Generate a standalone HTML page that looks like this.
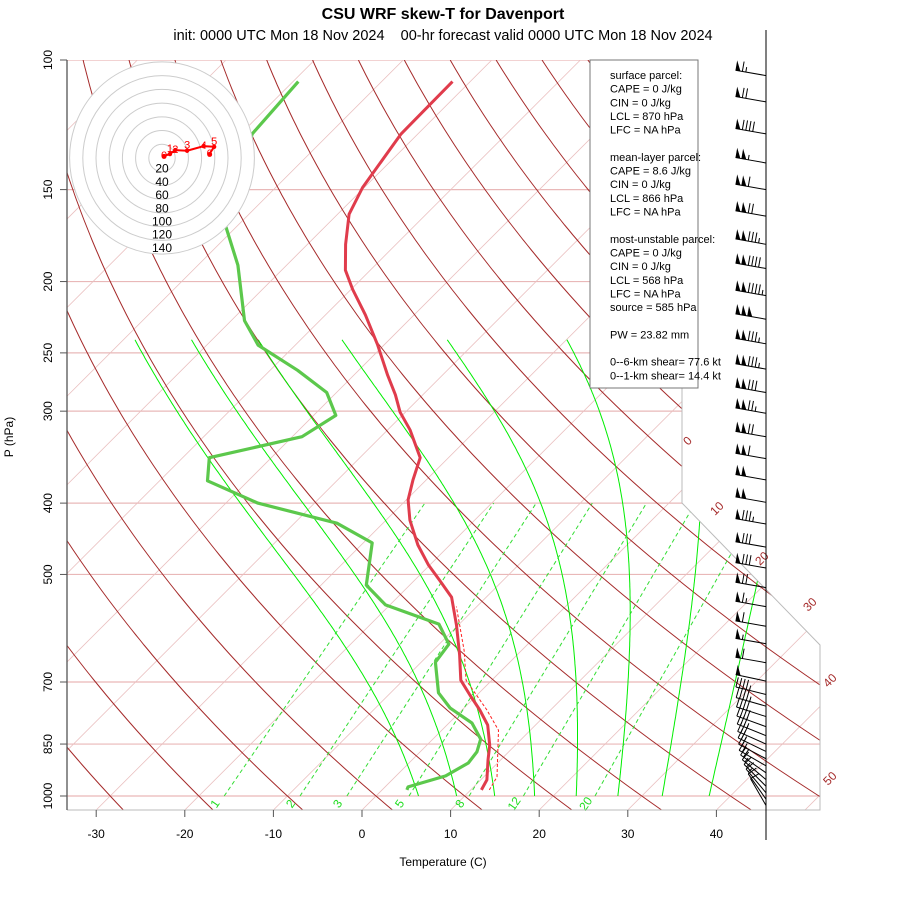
<!DOCTYPE html>
<html><head><meta charset="utf-8"><style>
html,body{margin:0;padding:0;background:#fff;}
svg{display:block;font-family:"Liberation Sans",sans-serif;}
</style></head><body>
<svg id="chart" width="900" height="900" viewBox="0 0 900 900" xmlns="http://www.w3.org/2000/svg">
<defs><clipPath id="plotClip"><polygon points="67,60 682,60 682,503 820,645 820,810 67,810"/></clipPath></defs>
<text x="443" y="19" text-anchor="middle" font-size="16" font-weight="bold">CSU WRF skew-T for Davenport</text>
<text x="443" y="40" text-anchor="middle" font-size="14.5" xml:space="preserve">init: 0000 UTC Mon 18 Nov 2024    00-hr forecast valid 0000 UTC Mon 18 Nov 2024</text>
<g id="grid" clip-path="url(#plotClip)"></g>
<g id="series" clip-path="url(#plotClip)"></g>
<g id="axes"></g>
<g id="hodo"></g>
<g id="info"></g>
<g id="barbs"></g>
</svg>
<script>
// ---- data ----
var isobarLevels=[100,150,200,250,300,400,500,700,850,1000];
var tempP=[107,126,149,162,178,193,205,222,244,268,285,301,318,347,372,396,422,456,485,509,537,586,643,696,729,764,801,853,894,951,981];
var tempT=[-72.0,-71.9,-70.2,-68.7,-65.7,-62.8,-59.8,-55.5,-50.7,-46.2,-43.1,-40.6,-37.5,-33.2,-31.5,-29.8,-27.3,-23.6,-20.2,-17.2,-13.9,-10.2,-6.5,-3.5,-0.8,2.0,4.6,7.1,8.6,10.7,11.2];
var dewP=[107,126,166,190,226,244,264,283,304,325,347,373,400,426,453,517,550,584,622,658,724,759,796,837,871,902,939,972,981];
var dewT=[-89.4,-88.7,-81.9,-75.5,-68.5,-64.2,-56.9,-51.1,-47.5,-48.9,-57.0,-54.6,-46.4,-35.2,-29.0,-24.9,-20.5,-12.3,-8.9,-8.4,-4.6,-1.6,2.6,5.4,6.4,6.7,5.6,2.6,2.8];
var parcelP=[981,942,814,764,696,634,553];
var parcelT=[12.1,11.5,6.4,2.8,-2.9,-6.5,-12.3];
var moistT0=[4.8,9.1,13.4,17.9,22.6,27.3,32.3,37.6];
var mixRatios=[1,2,3,5,8,12,20];
var isoLabels=[0,10,20,30,40,50];
var tempTicks=[-30,-20,-10,0,10,20,30,40];
var barbP=[105,114,126,138,150,163,178,192,209,225,243,263,283,302,325,348,372,399,427,459,490,521,553,588,621,659,698,728,755,780,805,828,850,870,890,910,930,950,970,990,1010,1030];
var barbSpd=[65,70,90,105,110,120,135,140,145,150,135,135,130,125,120,110,100,100,85,80,80,70,65,60,55,60,50,45,45,40,40,35,30,25,20,20,20,15,15,15,10,10];
var barbDir=[280,280,280,280,280,280,280,280,280,280,280,280,280,280,280,280,280,280,280,280,280,280,280,280,280,280,282,284,286,288,290,292,294,296,298,300,305,310,315,320,325,330];
var hodoU=[3,12,20,38,63,79,72];
var hodoV=[3,6,12,11,18,17,6];
var hodoLbl=["0","1","2","3","4","5","6"];
var hodoRings=[20,40,60,80,100,120,140];
var infoLines=["surface parcel:","CAPE = 0 J/kg","CIN = 0 J/kg","LCL = 870 hPa","LFC = NA hPa","","mean-layer parcel:","CAPE = 8.6 J/kg","CIN = 0 J/kg","LCL = 866 hPa","LFC = NA hPa","","most-unstable parcel:","CAPE = 0 J/kg","CIN = 0 J/kg","LCL = 568 hPa","LFC = NA hPa","source = 585 hPa","","PW =  23.82 mm","","0--6-km shear= 77.6 kt","0--1-km shear= 14.4 kt"];

// ---- scales ----
var NS="http://www.w3.org/2000/svg";
function yP(p){return 796-736*Math.log10(1000/p);}
function xT(t,y){return 362+8.86*t+(810-y);}
function mk(tag,at,parent){var e=document.createElementNS(NS,tag);for(var k in at)e.setAttribute(k,at[k]);parent.appendChild(e);return e;}
function pathFrom(ps,ts){var d="";for(var i=0;i<ps.length;i++){var y=yP(ps[i]);d+=(i?"L":"M")+xT(ts[i],y).toFixed(1)+","+y.toFixed(1);}return d;}
var grid=document.getElementById("grid"),series=document.getElementById("series"),axes=document.getElementById("axes");

isobarLevels.forEach(function(p){var y=yP(p);
 var l=mk("line",{x1:67,x2:820,y1:y,y2:y,stroke:"#e9b8b8","stroke-width":1.2},grid);
 
 });
for(var t=-110;t<=50;t+=10){
 var l=mk("line",{x1:xT(t,810),y1:810,x2:xT(t,60),y2:60,stroke:"#eac0c0","stroke-width":0.8},grid);
 
 }
for(var th=-40;th<=220;th+=10){var d="";
 for(var y=810;y>=60;y-=5){var p=1000*Math.pow(10,(y-796)/736);var T=(th+273.15)*Math.pow(p/1000,0.2857)-273.15;d+=(y==810?"M":"L")+xT(T,y).toFixed(1)+","+y;}
 var l=mk("path",{d:d,fill:"none",stroke:"#a52a2a","stroke-width":1},grid);
 
 }
function es(tc){return 6.112*Math.exp(17.67*tc/(tc+243.5));}
moistT0.forEach(function(t0){var T=t0+273.15,lp=Math.log(1000),d="",end=Math.log(240),n=200,h=(end-lp)/n;
 for(var i=0;i<=n;i++){var p=Math.exp(lp);var y=yP(p);d+=(i?"L":"M")+xT(T-273.15,y).toFixed(1)+","+y.toFixed(1);
  var e=es(T-273.15),rs=0.622*e/(p-e);var g=(287*T+2.5e6*rs)/(1004+2.5e6*2.5e6*rs*0.622/(287*T*T));T+=g*h;lp+=h;}
 var l=mk("path",{d:d,fill:"none",stroke:"#00ee00","stroke-width":1},grid);
 
 });
function tdOf(w,p){var e=w*p/(622+w);var a=Math.log(e/6.112);return 243.5*a/(17.67-a);}
mixRatios.forEach(function(w){var d="";[1000,400].forEach(function(p,i){var y=yP(p);d+=(i?"L":"M")+xT(tdOf(w,p),y).toFixed(1)+","+y.toFixed(1);});
 var l=mk("path",{d:d,fill:"none",stroke:"#33dd33","stroke-width":1,"stroke-dasharray":"4,3"},grid);
 
 
 var x=xT(tdOf(w,1000),796)-6;
 var tx=mk("text",{x:x,y:806,fill:"#22dd22","font-size":12,"text-anchor":"middle",transform:"rotate(-55 "+x+" 806)"},axes);tx.textContent=w;
 
 });
var fr=mk("polyline",{points:"682,60 682,503 820,645 820,810 67,810",fill:"none",stroke:"#bbbbbb","stroke-width":1},axes);


var isoPos=[[688,446],[715,516],[760,566],[808,612],[828,688],[828,786]];
isoLabels.forEach(function(v,i){var x=isoPos[i][0],y=isoPos[i][1];
 var tx=mk("text",{x:x,y:y,fill:"#a52a2a","font-size":12,transform:"rotate(-45 "+x+" "+y+")"},axes);tx.textContent=v;
 
 });
var tl=mk("path",{d:pathFrom(tempP,tempT),fill:"none",stroke:"#e03c4c","stroke-width":3,"stroke-linejoin":"round"},series);


var dl=mk("path",{d:pathFrom(dewP,dewT),fill:"none",stroke:"#5cc84c","stroke-width":3.2,"stroke-linejoin":"round"},series);


var pl=mk("path",{d:pathFrom(parcelP,parcelT),fill:"none",stroke:"#ff2020","stroke-width":1,"stroke-dasharray":"3,2"},series);


var la=mk("line",{x1:67,x2:67,y1:60,y2:810,stroke:"#555","stroke-width":1.3},axes);


isobarLevels.forEach(function(p){var y=yP(p);
 var tk=mk("line",{x1:60,x2:67,y1:y,y2:y,stroke:"#555"},axes);
 
 
 var tx=mk("text",{x:52,y:y,"font-size":12,"text-anchor":"middle",transform:"rotate(-90 52 "+y+")"},axes);tx.textContent=p;
 
 });
tempTicks.forEach(function(t){var x=362+8.86*t;
 var tk=mk("line",{x1:x,x2:x,y1:810,y2:817,stroke:"#555"},axes);
 
 
 var tx=mk("text",{x:x,y:838,"font-size":12,"text-anchor":"middle"},axes);tx.textContent=t;
 
 });
var xt=mk("text",{x:443,y:866,"font-size":12,"text-anchor":"middle"},axes);xt.textContent="Temperature (C)";


var yt=mk("text",{x:13,y:437,"font-size":12,"text-anchor":"middle",transform:"rotate(-90 13 437)"},axes);yt.textContent="P (hPa)";


// hodograph
var hodo=document.getElementById("hodo"),hx=162,hy=158,ks=13.2/20;
var bg=mk("ellipse",{cx:hx,cy:hy,rx:140*ks,ry:140*ks*1.04,fill:"#fff",stroke:"none"},hodo);


hodoRings.forEach(function(r){
 var c=mk("ellipse",{cx:hx,cy:hy,rx:r*ks,ry:r*ks*1.04,fill:"none",stroke:"#cccccc","stroke-width":1},hodo);
 
 
 var tx=mk("text",{x:hx,y:hy+r*ks+1.5,"font-size":12,"text-anchor":"middle"},hodo);tx.textContent=r;
 
 });
var hd="";hodoU.forEach(function(u,i){hd+=(i?"L":"M")+(hx+u*ks).toFixed(1)+","+(hy-hodoV[i]*ks).toFixed(1);});
var hl=mk("path",{d:hd,fill:"none",stroke:"#ff0000","stroke-width":2},hodo);


hodoU.forEach(function(u,i){var x=hx+u*ks,y=hy-hodoV[i]*ks;
 var c=mk("circle",{cx:x,cy:y,r:2.2,fill:"#ff0000"},hodo);
 
 
 var tx=mk("text",{x:x-3,y:y+(i%2?-2:3),"font-size":11,fill:"#ff0000"},hodo);tx.textContent=hodoLbl[i];
 
 });
// info box
var info=document.getElementById("info");
var rb=mk("rect",{x:590,y:60,width:108,height:328,fill:"#fff",stroke:"#777","stroke-width":1},info);


infoLines.forEach(function(s,i){if(!s)return;
 var tx=mk("text",{x:610,y:79+i*13.65,"font-size":11,"xml:space":"preserve"},info);tx.textContent=s;
 
 });
// wind barbs
var barbs=document.getElementById("barbs");
var vl=mk("line",{x1:766,x2:766,y1:30,y2:840,stroke:"#000","stroke-width":1},barbs);


barbP.forEach(function(p,i){var y0=yP(p),L=31,d=barbDir[i]*Math.PI/180;
 var ux=Math.sin(d),uy=-Math.cos(d);var nx=-uy,ny=ux; if(ny>0){nx=-nx;ny=-ny;}
 var g=mk("g",{},barbs);
 
 
 mk("line",{x1:766,y1:y0,x2:766+ux*L,y2:y0+uy*L,stroke:"#000","stroke-width":1},g);
 var s=Math.round(barbSpd[i]/5)*5,pos=L;
 while(s>=50){var ax=766+ux*pos,ay=y0+uy*pos,bx=766+ux*(pos-5),by=y0+uy*(pos-5);
  mk("polygon",{points:ax+","+ay+" "+bx+","+by+" "+(ax+nx*10)+","+(ay+ny*10),fill:"#000"},g);pos-=6;s-=50;}
 if(pos<L)pos-=1;
 while(s>=10){var ax=766+ux*pos,ay=y0+uy*pos;mk("line",{x1:ax,y1:ay,x2:ax+nx*10,y2:ay+ny*10,stroke:"#000","stroke-width":1},g);pos-=3.5;s-=10;}
 if(s>=5){var ax=766+ux*pos,ay=y0+uy*pos;mk("line",{x1:ax,y1:ay,x2:ax+nx*5,y2:ay+ny*5,stroke:"#000","stroke-width":1},g);}
});
</script>
</body></html>
